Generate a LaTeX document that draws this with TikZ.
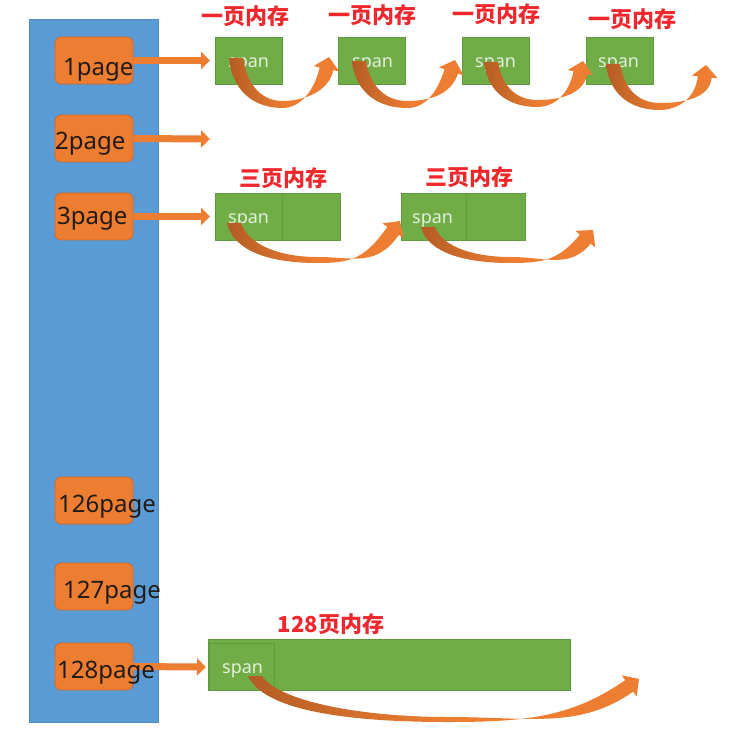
\documentclass[tikz,border=0pt]{standalone}
\usepackage{fontspec}
\setmainfont{Noto Sans}
\newfontfamily\cjk{Noto Sans CJK SC}
\usetikzlibrary{arrows.meta,calc}
\definecolor{bluebg}{HTML}{5B9BD5}
\definecolor{blueedge}{HTML}{4F8CC9}
\definecolor{orangebox}{HTML}{ED7D31}
\definecolor{orangeedge}{HTML}{C9692C}
\definecolor{greenbox}{HTML}{70AD47}
\definecolor{greenedge}{HTML}{5F9A3B}
\definecolor{arrowor}{HTML}{ED7D31}
\definecolor{arrowdk}{HTML}{B35C24}
\definecolor{labelred}{HTML}{F0282D}
\definecolor{spantext}{HTML}{E4EFDC}
\definecolor{pagetext}{HTML}{211B17}

% ribbon (curved 3D-like) arrow: #1 tx, #2 ty, #3 hx, #4 hy, #5 depth, #6 head angle, #7 bottom thickness, #8 name
\newcommand\ribbonarrow[8]{%
  \coordinate (#8-tail) at (#1,#2);
  \coordinate (#8-tip) at (#3,#4);
  \pgfmathsetmacro\rc{cos(#6)}%
  \pgfmathsetmacro\rs{sin(#6)}%
  \pgfmathsetmacro\rL{#3-#1}%
  \pgfmathsetmacro\rBx{#1+0.5*\rL}%
  \pgfmathsetmacro\rBo{#2+#5}%
  \pgfmathsetmacro\rBi{#2+#5-#7}%
  \pgfmathsetmacro\rCx{#3-12*\rc}%
  \pgfmathsetmacro\rCy{#4+12*\rs}%
  \pgfmathsetmacro\rNLx{\rCx-7*\rs}%
  \pgfmathsetmacro\rNLy{\rCy-7*\rc}%
  \pgfmathsetmacro\rBLx{\rCx-13*\rs}%
  \pgfmathsetmacro\rBLy{\rCy-13*\rc}%
  \pgfmathsetmacro\rNRx{\rCx+7*\rs}%
  \pgfmathsetmacro\rNRy{\rCy+7*\rc}%
  \pgfmathsetmacro\rBRx{\rCx+13*\rs}%
  \pgfmathsetmacro\rBRy{\rCy+13*\rc}%
  \pgfmathsetmacro\rk{min(0.24*\rL,0.9*(\rBo-\rNLy)/\rs)}%
  \shade[ribbonshade]
    ({#1-7},#2) .. controls ({#1-7+0.04*\rL},{#2+0.73*#5}) and ({\rBx-0.27*\rL},\rBo) .. (\rBx,\rBo)
    .. controls ({\rBx+0.2*\rL},\rBo) and ({\rNLx-\rk*\rc},{\rNLy+\rk*\rs}) .. (\rNLx,\rNLy)
    -- (\rBLx,\rBLy) -- (#8-tip) -- (\rBRx,\rBRy) -- (\rNRx,\rNRy)
    .. controls ({\rNRx-\rk*\rc},{\rNRy+\rk*\rs}) and ({\rBx+0.22*\rL},\rBi) .. (\rBx,\rBi)
    .. controls ({\rBx-0.2*\rL},\rBi) and ({#1+7+0.05*\rL},{#2+0.6*#5}) .. ({#1+7},#2) -- cycle;
}

\begin{document}
\begin{tikzpicture}[x=1pt,y=-1pt,
  bluecol/.style={draw=blueedge, fill=bluebg, line width=0.6pt, minimum width=129pt, minimum height=703pt, inner sep=0pt},
  pagebox/.style={draw=orangeedge, fill=orangebox, rounded corners=6pt, line width=0.8pt, minimum width=78pt, minimum height=47pt, inner sep=0pt},
  pagetxt/.style={anchor=base west, inner sep=0pt, text=pagetext, font=\fontsize{24}{28}\selectfont},
  spanbox/.style={draw=greenedge, fill=greenbox, line width=0.8pt, minimum height=47pt, inner sep=0pt},
  spantxt/.style={anchor=base west, inner sep=0pt, text=spantext, font=\fontsize{18}{22}\selectfont},
  memlabel/.style={inner sep=0pt, text=labelred, font=\cjk\bfseries\fontsize{22}{26}\selectfont},
  feed/.style={draw=arrowor, line width=7pt, -{Triangle[length=9pt,width=17pt]}},
  ribbonshade/.style={left color=arrowdk, right color=arrowor, middle color=arrowor}
]
\useasboundingbox (0,0) rectangle (747,730);
\fill[white] (0,0) rectangle (747,730);

% free list column
\node[bluecol] (col) at (93.5,370.5) {};

% page boxes
\node[pagebox] (p1) at (94,60.5) {};
\node[pagebox] (p2) at (94,138.5) {};
\node[pagebox] (p3) at (94,216.5) {};
\node[pagebox] (p126) at (94,500.5) {};
\node[pagebox] (p127) at (94,586.5) {};
\node[pagebox] (p128) at (94,666.5) {};

% row 1 spans
\node[spanbox, minimum width=67pt] (s11) at (248.5,60.5) {};
\node[spanbox, minimum width=67pt] (s12) at (371.5,60.5) {};
\node[spanbox, minimum width=67pt] (s13) at (495.5,60.5) {};
\node[spanbox, minimum width=67pt] (s14) at (619.5,60.5) {};
% row 3 spans
\node[spanbox, minimum width=67pt] (s31a) at (248.5,216.5) {};
\node[spanbox, minimum width=58pt] (s31b) at (311,216.5) {};
\node[spanbox, minimum width=65pt] (s32a) at (433.5,216.5) {};
\node[spanbox, minimum width=59pt] (s32b) at (495.5,216.5) {};
% 128 span
\node[spanbox, minimum width=362pt, minimum height=51pt] (s128) at (389.5,664.5) {};
\node[spanbox, minimum width=65pt] (s128a) at (241.5,666.5) {};

% span texts (under the ribbon tails)
\node[spantxt] (st11) at (228,68) {span};
\node[spantxt] (st12) at (352,68) {span};
\node[spantxt] (st13) at (475,68) {span};
\node[spantxt] (st14) at (598,68) {span};
\node[spantxt] (st31) at (228,224) {span};
\node[spantxt] (st32) at (412,224) {span};
\node[spantxt] (st128) at (222,673) {span};

% straight arrows
\coordinate (e1) at (210,60.5);
\coordinate (e2) at (210,139);
\coordinate (e3) at (210,216.5);
\coordinate (e128) at (206,667);
\draw[feed] (p1.east) -- (e1);
\draw[feed] (p2.east) -- (e2);
\draw[feed] (p3.east) -- (e3);
\draw[feed] ([xshift=-5pt]p128.east) -- (e128);

% curved ribbon arrows
\ribbonarrow{236}{58}{329}{57}{50}{78}{7}{r11}
\ribbonarrow{359}{61}{455}{60}{47}{72}{7}{r12}
\ribbonarrow{491}{62}{583}{61}{45}{78}{7}{r13}
\ribbonarrow{613}{64}{706}{65}{46}{84}{7}{r14}
\ribbonarrow{234}{223}{400}{221}{40}{55}{6}{r31}
\ribbonarrow{428}{227}{593}{230}{36}{50}{6}{r32}
\ribbonarrow{255}{676}{639}{679}{46}{35}{5}{r128}

% page texts
\node[pagetxt] (t1) at (63,76) {1page};
\node[pagetxt] (t2) at (55,150) {2page};
\node[pagetxt] (t3) at (57,225) {3page};
\node[pagetxt] (t126) at (58,512) {126page};
\node[pagetxt] (t127) at (63,598) {127page};
\node[pagetxt] (t128) at (57,678) {128page};

% memory labels
\node[memlabel] (l11) at (245,16) {一页内存};
\node[memlabel] (l12) at (372,15) {一页内存};
\node[memlabel] (l13) at (496,14) {一页内存};
\node[memlabel] (l14) at (632,19) {一页内存};
\node[memlabel] (l31) at (283,178) {三页内存};
\node[memlabel] (l32) at (469,177) {三页内存};
\node[memlabel] (l128) at (331,624) {128页内存};
\end{tikzpicture}
\end{document}
